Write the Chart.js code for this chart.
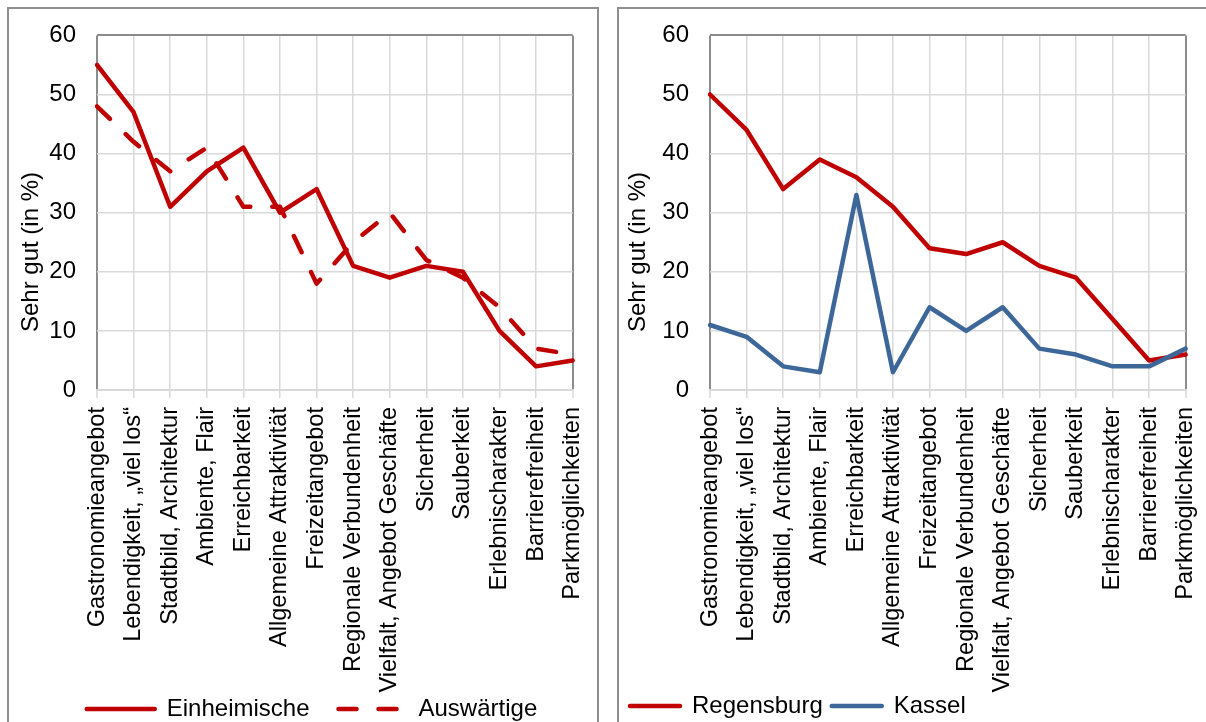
<!DOCTYPE html>
<html>
<head>
<meta charset="utf-8">
<script src="https://cdn.jsdelivr.net/npm/chart.js@4/dist/chart.umd.min.js"></script>
<style>
  html, body { margin: 0; padding: 0; width: 1206px; height: 722px; overflow: hidden; background: #fff; }
  .panel { position: absolute; border: 2px solid #8f8f8f; box-sizing: border-box; }
  canvas { position: absolute; top: 0; }
</style>
</head>
<body>
<div class="panel" style="left:7px; top:7px; width:592px; height:730px;"></div>
<div class="panel" style="left:617px; top:7px; width:700px; height:730px;"></div>
<canvas id="left" width="610" height="734" style="left:0px;"></canvas>
<canvas id="right" width="617" height="734" style="left:606px;"></canvas>
<script>
// Aspects of the city centre, share of "sehr gut" ratings
const categories = [
  'Gastronomieangebot',
  'Lebendigkeit, \u201Eviel los\u201C',
  'Stadtbild, Architektur',
  'Ambiente, Flair',
  'Erreichbarkeit',
  'Allgemeine Attraktivit\u00E4t',
  'Freizeitangebot',
  'Regionale Verbundenheit',
  'Vielfalt, Angebot Gesch\u00E4fte',
  'Sicherheit',
  'Sauberkeit',
  'Erlebnischarakter',
  'Barrierefreiheit',
  'Parkm\u00F6glichkeiten'
];

// Regensburg: locals vs. visitors
const einheimische = [55, 47, 31, 37, 41, 30, 34, 21, 19, 21, 20, 10, 4, 5];
const auswaertige  = [48, 42, 37, 41, 31, 31, 18, 25, 30, 22, 19, 14, 7, 6];

// Comparison of the two cities
const regensburg = [50, 44, 34, 39, 36, 31, 24, 23, 25, 21, 19, 12, 5, 6];
const kassel     = [11, 9, 4, 3, 33, 3, 14, 10, 14, 7, 6, 4, 4, 7];

const yTicks = { min: 0, max: 60, step: 10 };
const yTitle = 'Sehr gut (in %)';

const RED = '#C00000';
const BLUE = '#3D6699';
const GRID = '#d9d9d9';
const FRAME = '#8c8c8c';
const FAMILY = '"Liberation Sans", Arial, sans-serif';
const TICK_FONT = { family: FAMILY, size: 24 };
const CAT_FONT = { family: FAMILY, size: 23.6 };
const LEGEND_FONT = { family: FAMILY, size: 24 };
const LABEL_CLIP_Y = 696;   // long category labels are cut just above the legend row
const TITLE_CENTER_Y = 252; // vertical centre of the axis title, sits a bit below the plot middle

Chart.defaults.font.family = FAMILY;
Chart.defaults.color = '#000';

// let the rotated category labels run down to the legend row,
// give the value labels the full left margin and centre the
// value-axis title lower than the plot middle
const axisTweaks = {
  id: 'axisTweaks',
  afterLayout(chart) {
    const x = chart.scales.x, y = chart.scales.y;
    if (x) x.bottom = Math.max(x.bottom, LABEL_CLIP_Y);
    if (y) {
      y.left = 0;
      y.bottom = 2 * TITLE_CENTER_Y - y.top;
    }
  }
};

function scales(yWidth, xHeight, titlePad) {
  const last = categories.length - 1;
  const edge = c => c.index === 0 || c.index === last;
  return {
    x: {
      type: 'category',
      offset: false,
      grid: {
        color: c => edge(c) ? FRAME : GRID,
        lineWidth: c => edge(c) ? 2 : 1.5,
        tickColor: GRID,
        tickWidth: 1.5,
        tickLength: 8,
        offset: false
      },
      border: { color: GRID, width: 2 },
      ticks: { autoSkip: false, minRotation: 90, maxRotation: 90, padding: 9, color: '#000', font: CAT_FONT },
      afterFit: s => { s.height = xHeight; }
    },
    y: {
      min: yTicks.min,
      max: yTicks.max,
      grid: {
        color: c => c.tick && c.tick.value === yTicks.max ? FRAME : GRID,
        lineWidth: c => c.tick && c.tick.value === yTicks.max ? 2 : 1.5,
        drawTicks: false
      },
      border: { display: false },
      ticks: { stepSize: yTicks.step, padding: 21, color: '#000', font: TICK_FONT },
      title: { display: true, text: yTitle, color: '#000', font: TICK_FONT, padding: { top: titlePad, bottom: 0 } },
      afterFit: s => { s.width = yWidth; }
    }
  };
}

function line(label, data, color, dash) {
  return {
    label, data,
    borderColor: color,
    backgroundColor: color,
    borderWidth: 4.5,
    borderDash: dash || [],
    borderCapStyle: 'round',
    borderJoinStyle: 'round',
    pointRadius: 0,
    pointHoverRadius: 0,
    tension: 0,
    fill: false
  };
}

// legend entries carry the dataset's own stroke, dash included
function lineLegendItems(chart) {
  return chart.data.datasets.map((ds, i) => ({
    text: ds.label,
    datasetIndex: i,
    hidden: false,
    pointStyle: 'line',
    fillStyle: ds.borderColor,
    strokeStyle: ds.borderColor,
    lineWidth: ds.borderWidth,
    lineDash: ds.borderDash,
    lineCap: 'round',
    fontColor: '#000'
  }));
}

function legend(align, boxWidth, padding) {
  return {
    position: 'bottom',
    align,
    labels: {
      usePointStyle: true,
      pointStyle: 'line',
      pointStyleWidth: boxWidth,
      boxHeight: 22,
      padding,
      color: '#000',
      font: LEGEND_FONT,
      generateLabels: lineLegendItems
    }
  };
}

new Chart(document.getElementById('left'), {
  type: 'line',
  data: {
    labels: categories,
    datasets: [
      line('Einheimische', einheimische, RED),
      line('Ausw\u00E4rtige', auswaertige, RED, [18, 22])
    ]
  },
  options: {
    responsive: false,
    animation: false,
    events: [],
    layout: { padding: { top: 29, left: 51, right: 37, bottom: 3 } },
    scales: scales(46, 278, 16.6),
    plugins: {
      tooltip: { enabled: false },
      legend: legend('center', 68, 29)
    }
  },
  plugins: [axisTweaks]
});

new Chart(document.getElementById('right'), {
  type: 'line',
  data: {
    labels: categories,
    datasets: [
      Object.assign(line('Regensburg', regensburg, RED), { order: 1 }),
      Object.assign(line('Kassel', kassel, BLUE), { order: 0 })
    ]
  },
  options: {
    responsive: false,
    animation: false,
    events: [],
    layout: { padding: { top: 27, left: 15, right: 37, bottom: 6 } },
    scales: scales(89, 295, 17.6),
    plugins: {
      tooltip: { enabled: false },
      legend: legend('start', 50, 9)
    }
  },
  plugins: [axisTweaks]
});
</script>
</body>
</html>
